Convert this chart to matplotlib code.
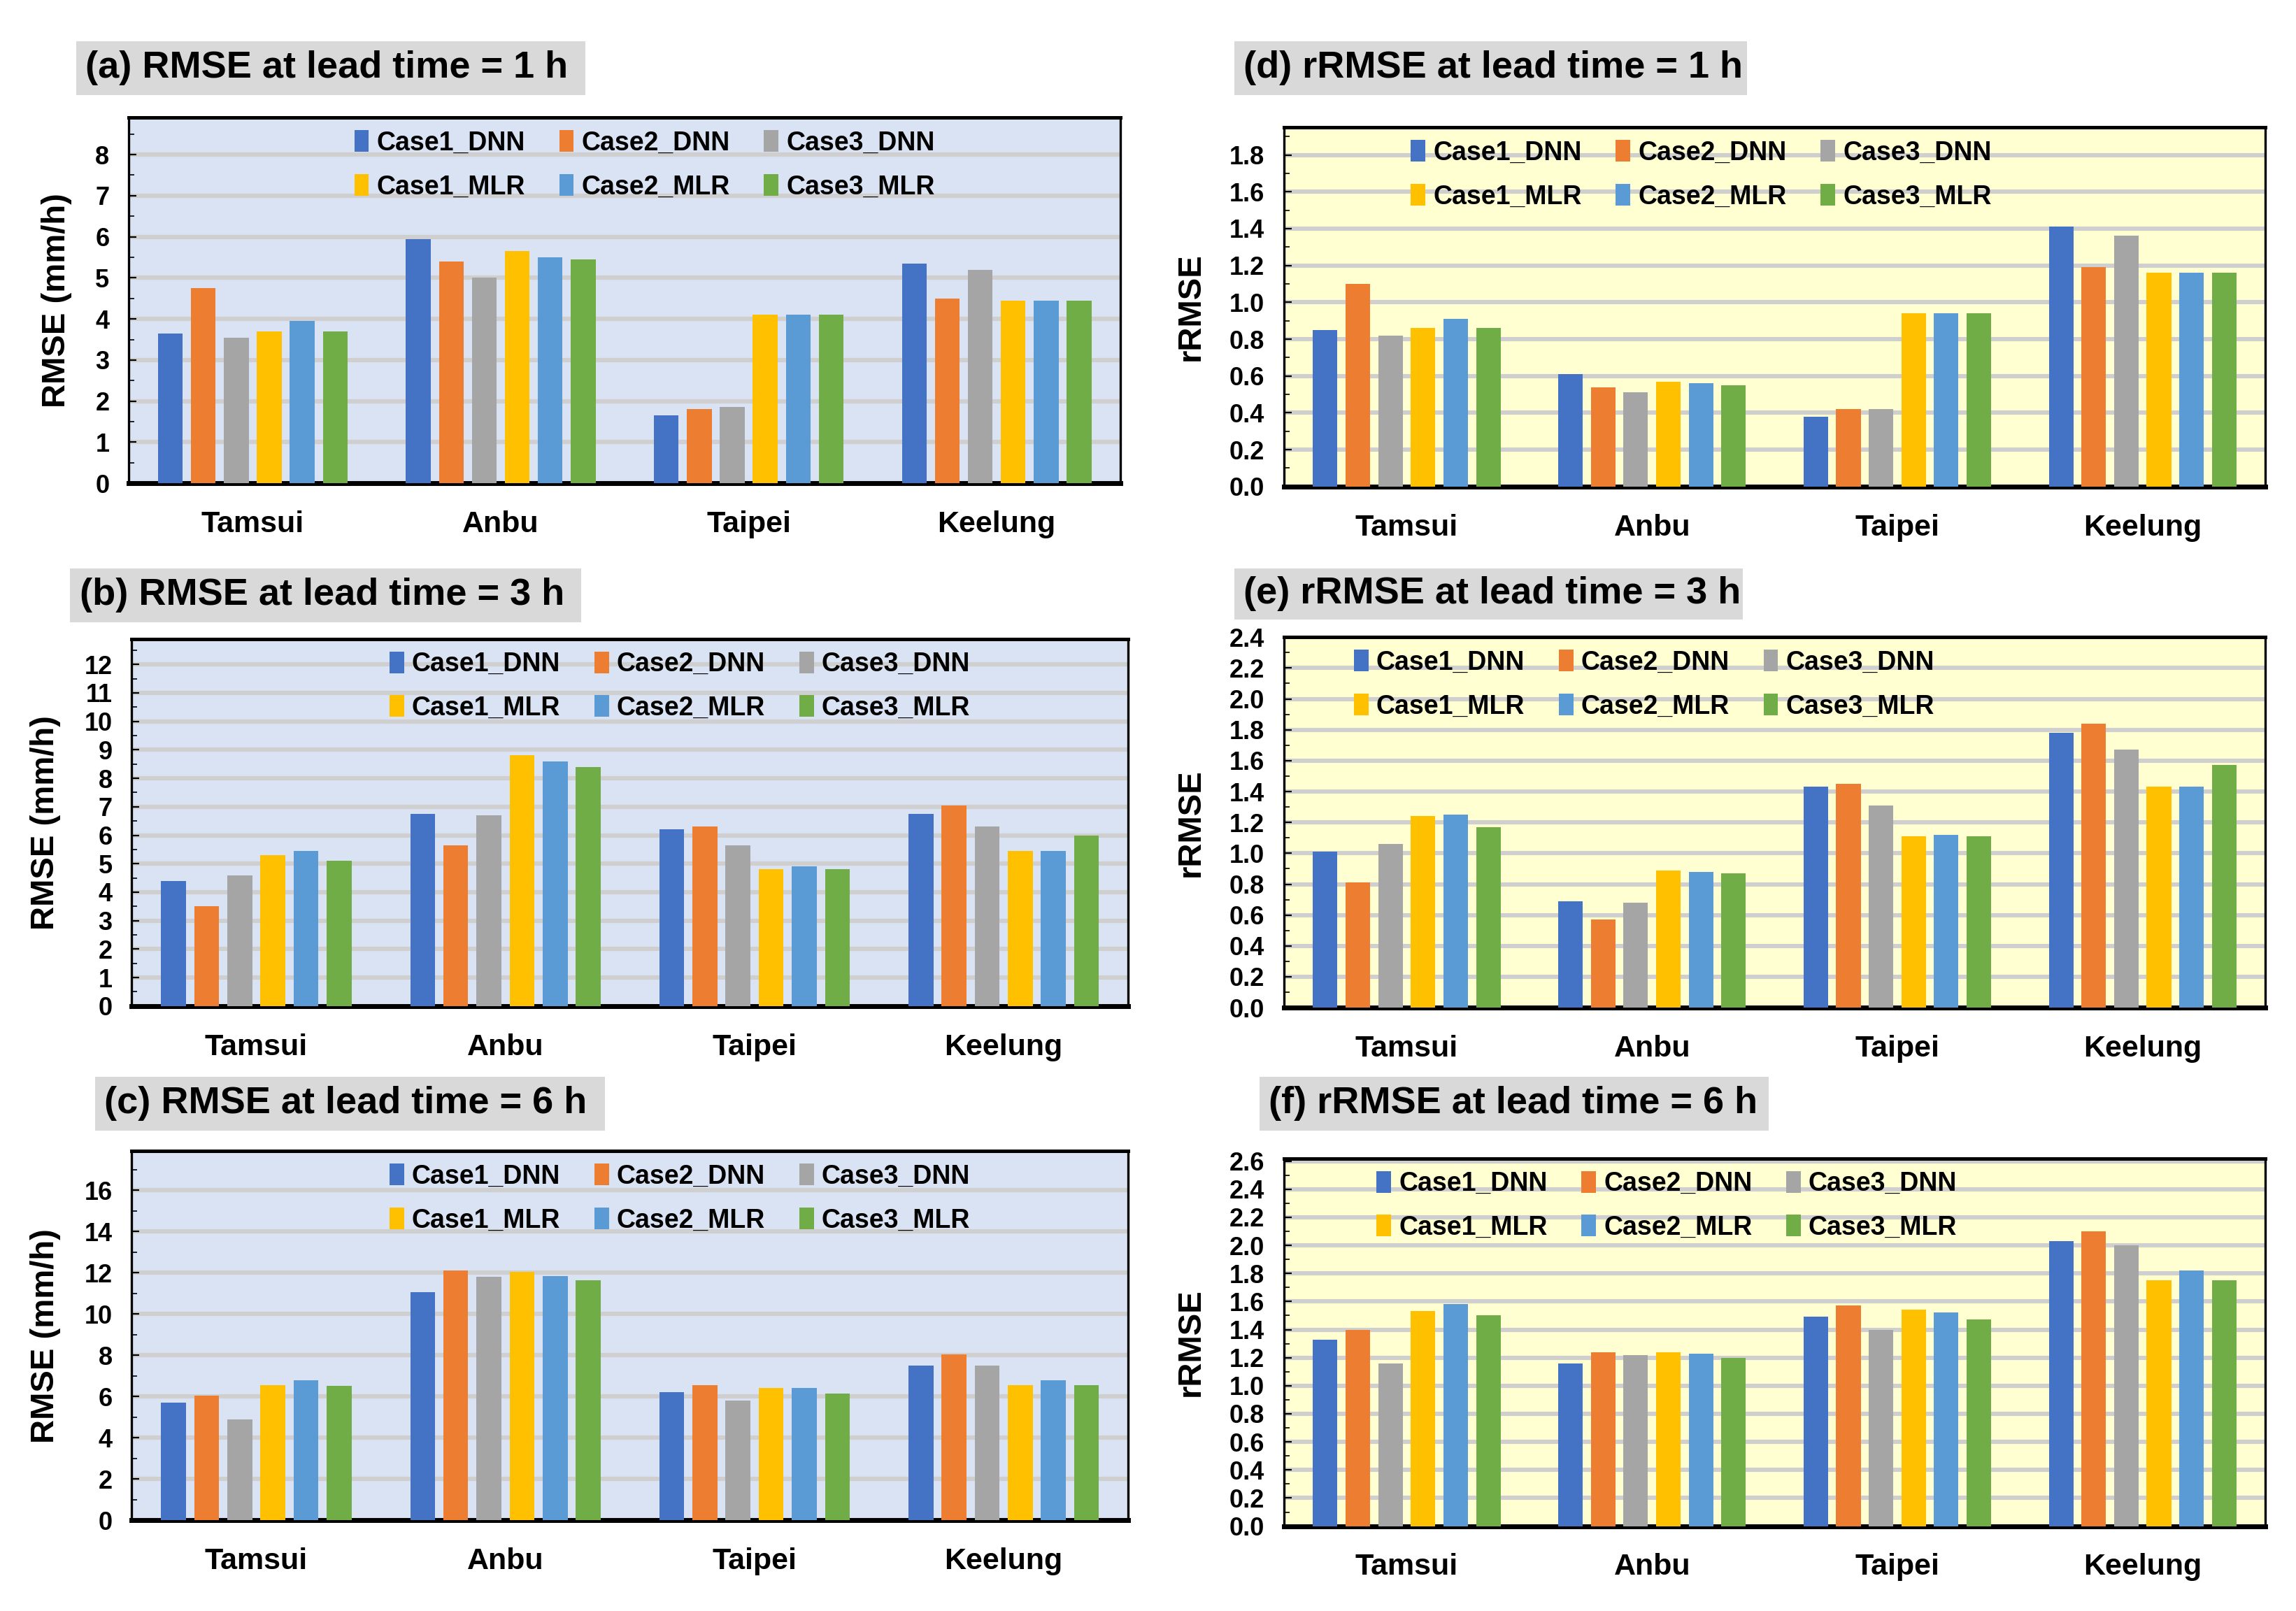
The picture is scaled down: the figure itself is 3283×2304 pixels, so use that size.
import numpy as np
import matplotlib
matplotlib.use("Agg")
import matplotlib.pyplot as plt
from matplotlib.patches import Rectangle
from matplotlib.ticker import MultipleLocator

plt.rcParams['font.family'] = ['Liberation Sans', 'DejaVu Sans']

stations = ["Tamsui", "Anbu", "Taipei", "Keelung"]
series = ["Case1_DNN", "Case2_DNN", "Case3_DNN", "Case1_MLR", "Case2_MLR", "Case3_MLR"]
colors = ["#4472C4", "#ED7D31", "#A5A5A5", "#FFC000", "#5B9BD5", "#70AD47"]

# rows = station, cols = series
rmse_1h = [[3.65, 4.75, 3.55, 3.70, 3.95, 3.70],
           [5.95, 5.40, 5.00, 5.65, 5.50, 5.45],
           [1.65, 1.80, 1.85, 4.10, 4.10, 4.10],
           [5.35, 4.50, 5.20, 4.45, 4.45, 4.45]]
rmse_3h = [[4.40, 3.50, 4.60, 5.30, 5.45, 5.10],
           [6.75, 5.65, 6.70, 8.80, 8.60, 8.40],
           [6.20, 6.30, 5.65, 4.80, 4.90, 4.80],
           [6.75, 7.05, 6.30, 5.45, 5.45, 6.00]]
rmse_6h = [[5.70, 6.05, 4.90, 6.55, 6.80, 6.50],
           [11.05, 12.10, 11.80, 12.05, 11.85, 11.65],
           [6.20, 6.55, 5.80, 6.40, 6.40, 6.15],
           [7.50, 8.05, 7.50, 6.55, 6.80, 6.55]]
rrmse_1h = [[0.85, 1.10, 0.82, 0.86, 0.91, 0.86],
            [0.61, 0.54, 0.51, 0.57, 0.56, 0.55],
            [0.38, 0.42, 0.42, 0.94, 0.94, 0.94],
            [1.41, 1.19, 1.36, 1.16, 1.16, 1.16]]
rrmse_3h = [[1.01, 0.81, 1.06, 1.24, 1.25, 1.17],
            [0.69, 0.57, 0.68, 0.89, 0.88, 0.87],
            [1.43, 1.45, 1.31, 1.11, 1.12, 1.11],
            [1.78, 1.84, 1.67, 1.43, 1.43, 1.57]]
rrmse_6h = [[1.33, 1.40, 1.16, 1.53, 1.58, 1.50],
            [1.16, 1.24, 1.22, 1.24, 1.23, 1.20],
            [1.49, 1.57, 1.40, 1.54, 1.52, 1.47],
            [2.03, 2.10, 2.00, 1.75, 1.82, 1.75]]

titles = ["(a) RMSE at lead time = 1 h", "(b) RMSE at lead time = 3 h", "(c) RMSE at lead time = 6 h",
          "(d) rRMSE at lead time = 1 h", "(e) rRMSE at lead time = 3 h", "(f) rRMSE at lead time = 6 h"]

fig = plt.figure(figsize=(16.415, 11.52), dpi=200)

# panel: data, axes rect, title box rect, ylim, major step, ylabel, bg, legend center, number format
panels = [
    (rmse_1h, [0.0561, 0.700, 0.432, 0.227], [0.0332, 0.9409, 0.2219, 0.0336], 8.9, 1, "RMSE (mm/h)", "#DAE3F3", 0.52, "%d"),
    (rmse_3h, [0.0574, 0.3755, 0.434, 0.228], [0.0306, 0.6136, 0.2226, 0.0337], 12.9, 1, "RMSE (mm/h)", "#DAE3F3", 0.55, "%d"),
    (rmse_6h, [0.0574, 0.0564, 0.434, 0.229], [0.0415, 0.2982, 0.2219, 0.0336], 17.9, 2, "RMSE (mm/h)", "#DAE3F3", 0.55, "%d"),
    (rrmse_1h, [0.5593, 0.698, 0.4273, 0.223], [0.5376, 0.9409, 0.2232, 0.0336], 1.95, 0.2, "rRMSE", "#FFFFD1", 0.425, "%.1f"),
    (rrmse_3h, [0.5593, 0.3745, 0.4273, 0.230], [0.5376, 0.6155, 0.2214, 0.0318], 2.4, 0.2, "rRMSE", "#FFFFD1", 0.367, "%.1f"),
    (rrmse_6h, [0.5593, 0.0527, 0.4273, 0.2283], [0.5485, 0.2982, 0.2219, 0.0336], 2.62, 0.2, "rRMSE", "#FFFFD1", 0.39, "%.1f"),
]

x = np.arange(len(stations))
pitch = 0.133
width = 0.10
order = [0, 3, 1, 4, 2, 5]  # legend row-major

for k, (vals, rect, box, ymax, step, ylab, bg, lx, fmt) in enumerate(panels):
    vals = np.array(vals)
    ax = fig.add_axes(rect)
    ax.set_facecolor(bg)
    for i in range(len(series)):
        ax.bar(x + (i - 2.5) * pitch, vals[:, i], width, color=colors[i], label=series[i], zorder=3)
    ax.set_xlim(-0.5, 3.5)
    ax.set_ylim(0, ymax)
    ax.yaxis.set_major_locator(MultipleLocator(step))
    ax.yaxis.set_minor_locator(MultipleLocator(step / 2))
    ax.yaxis.set_major_formatter(matplotlib.ticker.FormatStrFormatter(fmt))
    ax.grid(axis='y', which='major', color='#CFCFCF', lw=2.2, zorder=1)
    ax.set_xticks(x)
    ax.set_xticklabels(stations, fontsize=15.5, fontweight='bold')
    ax.tick_params(axis='x', length=0, pad=14)
    ax.tick_params(axis='y', which='major', direction='in', length=4, labelsize=13, pad=10)
    ax.tick_params(axis='y', which='minor', direction='in', length=3)
    for lab in ax.get_yticklabels():
        lab.set_fontweight('bold')
    for s in ax.spines.values():
        s.set_color('black')
        s.set_linewidth(1.2)
    ax.spines['bottom'].set_linewidth(2.5)
    ax.spines['top'].set_linewidth(1.8)
    ax.set_ylabel(ylab, fontsize=17, fontweight='bold', labelpad=12)
    h, l = ax.get_legend_handles_labels()
    ax.legend([h[j] for j in order], [l[j] for j in order], loc='upper center',
              bbox_to_anchor=(lx, 1.03), ncol=3, frameon=False,
              handlelength=0.55, handleheight=0.9, handletextpad=0.3, columnspacing=1.3,
              labelspacing=0.7, prop={'size': 13.5, 'weight': 'bold'})
    # title box
    fig.patches.append(Rectangle((box[0], box[1]), box[2], box[3], transform=fig.transFigure,
                                 facecolor='#D9D9D9', edgecolor='none', zorder=0))
    fig.text(box[0] + 0.004, box[1] + box[3] / 2, titles[k], fontsize=19.5, fontweight='bold',
             va='center', ha='left')

fig.savefig("out.png", dpi=200)
